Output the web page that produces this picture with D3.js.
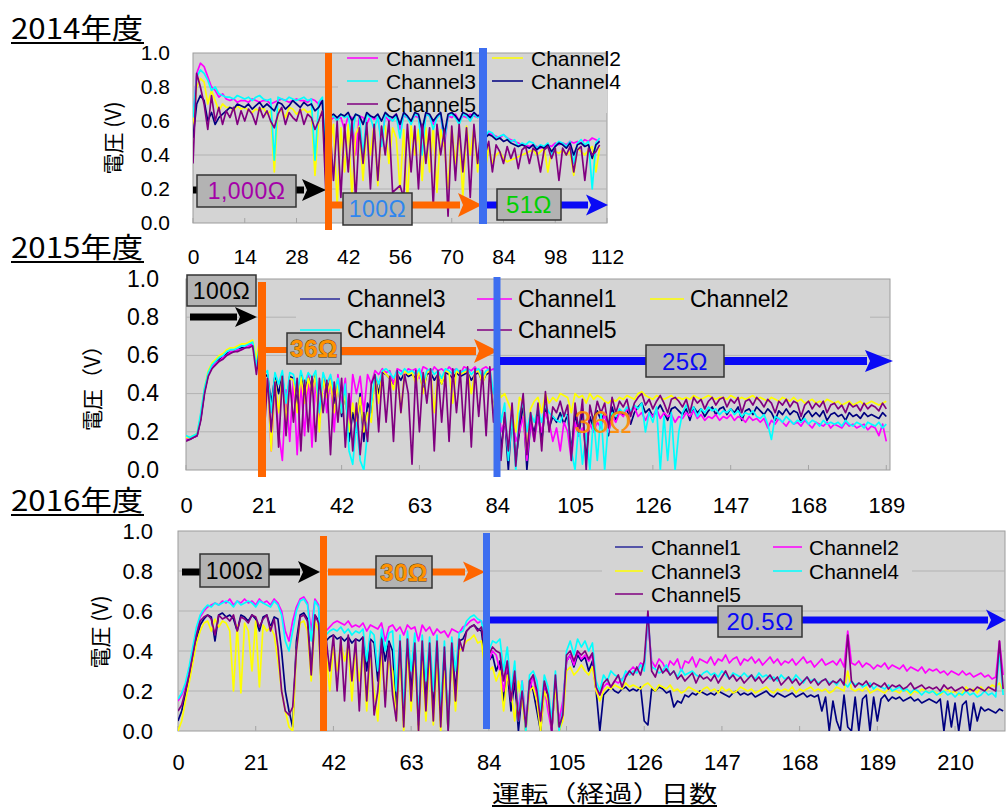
<!DOCTYPE html>
<html><head><meta charset="utf-8">
<script src="https://cdn.jsdelivr.net/npm/d3@7"></script>
<style>body{margin:0;background:#fff}</style>
</head><body><svg id="c" width="1006" height="808"></svg>
<script>
// Voltage values in centivolts (0.01 V), one value per day
const yTicks = [0, 20, 40, 60, 80, 100];
const xTicks2014 = [0, 14, 28, 42, 56, 70, 84, 98, 112];
const xTicks2015 = [0, 21, 42, 63, 84, 105, 126, 147, 168, 189];
const xTicks2016 = [0, 21, 42, 63, 84, 105, 126, 147, 168, 189, 210];

// ---- 2014 ----
const v2014_ch1 = [60,88,94,92,86,80,78,74,76,73, 72,73,71,72,72,71,73,72,71,72, 72,70,71,72,73,72,71,72,73,72, 72,71,73,72,70,72, 30, 60,62,61,
 62,55,63,62,40,63,62,58,63,61, 62,48,63,60,62,64,55,63,62,60, 63,62,50,64,63,58,62,64,45,63, 62,64,60,63,62,64,63,62,65, 52,
 53,52,51,50,52,50,49,48,47,46, 46,45,46,45,44,45,46,45,47,46, 47,46,48,47,48,47,49,48,50,49,48];
const v2014_ch2 = [58,80,85,83,70,78,72,66,70,68, 68,66,69,67,68,66,65,67,66,68, 64,66,30,67,66,62,68,67,64,66, 67,65,66,28,60,66, 20, 45,58,10,
 56,30,58,15,52,57,25,56,40,58, 22,55,57,35,56,50,20,55,12,57, 40,55,25,56,30,57,18,55,45,20, 56,35,55,15,57,40,56,30,55, 30,
 45,35,40,42,38,36,37,38,39,40, 41,42,43,40,42,44,30,43,42,41, 43,40,42,28,44,42,40,43,45,30,44];
const v2014_ch3 = [62,86,90,88,84,78,80,76,75,74, 74,73,75,74,73,74,72,74,75,73, 72,73,37,74,73,72,74,73,72,73, 74,72,73,37,71,74, 35, 62,63,60,
 64,62,63,50,64,63,40,64,62,55, 63,45,64,62,60,63,50,64,62,58, 64,63,40,64,63,55,62,64,48,63, 64,62,58,64,63,60,64,62,63, 50,
 54,53,50,51,52,50,48,49,45,47, 46,48,47,44,46,45,47,40,46,48, 47,45,48,35,47,49,46,48,20,47,50];
const v2014_ch4 = [50,70,75,72,60,65,58,62,64,66, 68,67,70,69,68,70,67,69,71,68, 70,68,66,71,70,67,69,72,70,68, 71,69,70,66,68,72, 25, 63,64,62,
 64,63,65,60,64,63,58,65,63,62, 64,60,65,63,62,64,58,65,63,60, 65,64,55,65,64,60,63,65,52,64, 65,63,60,65,64,62,65,63,64, 50,
 52,51,49,50,48,49,47,46,45,46, 45,44,46,43,45,44,46,42,45,47, 46,44,47,40,46,47,45,46,38,46,48];
const v2014_ch5 = [35,88,80,70,55,75,60,68,58,66, 62,68,58,66,60,67,64,58,68,62, 66,60,56,64,68,58,65,62,60,67, 58,64,62,55,60,66, 15, 58,25,60,
 15,58,30,60,12,56,35,59,20,58, 25,57,40,60,18,20,22,15,58,30, 57,20,58,35,56,10,58,40,55,4, 57,25,58,30,56,15,58,35,57, 40,
 48,30,46,42,35,45,38,44,32,43, 45,35,44,42,30,43,45,38,44,25, 44,40,45,30,43,45,25,44,40,42,46];

// ---- 2015 ----
const v2015_ch1 = [16,17,17,18,28,42,50,54,56,57,59,60,62,62,63,63,64,65,66,56,67,
 40,48,10,45,20,5,42,15,48,8, 46,18,50,12,47,25,50,30,49,20, 50,35,48,22,50,40,49,30,50,45, 52,50,53,51,52,45,53,52,50,53, 52,53,48,54,53,50,54,52,53,51, 54,52,53,50,54,53,52,54,51,53, 54,52,53,50,
 20,25,10,30,15,20,28,5,25,15, 28,20,30,25,15,22,10,25,20,5, 25,18,22,15,24,20,25,22,30,20, 28,25,30,28,32,30,33,28,30,26, 30,28,32,27,30,28,29,25,28,27,
 30,28,31,27,29,26,28,27,29,26, 28,27,29,26,28,27,25,28,26,27, 25,27,22,26,24,27,25,23,26,24, 25,23,26,24,22,25,24,23,25,22, 24,23,22,25,23,24,22,23,24,21, 23,22,18,24,15];
const v2015_ch2 = [17,17,18,19,29,43,52,56,58,60,61,63,64,64,65,66,66,67,68,58,70,
 20,48,10,47,30,49,25,48,47,30, 49,35,48,40,50,20,48,38,47,30, 45,30,40,20,35,25,38,20,30,25, 50,35,52,50,48,42,51,30,52,50, 51,45,52,40,51,52,30,51,45,52, 51,35,52,50,51,52,40,51,52,45, 51,52,30,49,
 38,40,35,30,20,38,35,10,32,36, 38,30,40,35,38,36,40,39,38,30, 40,38,39,35,40,37,39,38,36,35, 37,36,38,37,39,38,37,40,41,39, 38,37,39,38,37,38,39,37,38,37,
 38,37,39,38,37,38,39,38,37,38, 38,37,39,38,37,38,37,38,39,37, 38,37,36,38,37,36,38,37,36,38, 36,37,35,36,37,35,36,35,37,36, 35,36,34,35,36,34,35,36,34,35, 36,35,34,35,36];
const v2015_ch3 = [16,16,17,18,27,41,50,54,56,58,59,61,62,62,63,64,64,65,66,55,66,
 48,50,35,49,40,50,30,49,48,35, 50,40,49,42,50,25,49,40,48,35, 47,28,42,15,30,20,40,15,35,30, 49,40,51,50,48,45,50,47,51,49, 50,48,51,42,50,51,47,50,45,51, 50,48,51,49,50,51,47,50,51,46, 50,51,30,48,
 10,28,0,30,5,20,35,0,25,20, 30,15,34,22,28,25,30,24,29,10, 30,18,32,5,28,22,31,26,30,18, 33,26,31,29,32,24,30,33,35,30, 32,28,31,34,30,26,32,33,31,29,
 32,26,33,30,32,28,31,33,29,32, 33,29,32,30,33,26,31,32,29,33, 31,29,32,30,26,31,29,32,29,31, 30,25,29,31,28,30,28,31,26,29, 30,28,29,26,30,28,29,27,30,28, 29,28,27,30,28];
const v2015_ch4 = [18,17,18,19,30,43,51,55,57,59,60,62,63,63,64,65,65,66,67,54,68,
 50,52,30,51,45,52,35,51,50,40, 52,45,51,48,52,30,51,45,50,40, 48,30,45,10,3,25,5,0,20,35, 50,45,52,53,51,48,52,50,53,51, 52,50,53,45,52,53,50,52,48,53, 52,50,53,51,52,53,50,52,53,49, 52,53,40,50,
 25,35,5,28,0,30,35,20,30,25, 32,25,34,30,28,26,25,30,28,10, 0,25,3,20,0,28,5,30,0,25, 30,28,32,30,33,31,34,32,35,20, 30,25,33,0,28,5,30,0,20,30,
 34,30,33,28,32,30,33,31,32,29, 31,30,32,29,31,28,30,29,31,28, 27,29,24,16,28,27,25,28,26,24, 26,25,27,24,26,25,23,26,24,25, 24,25,23,26,24,23,25,24,22,25, 24,23,25,22,24];
const v2015_ch5 = [15,16,17,18,26,40,49,53,55,57,58,60,61,62,62,63,64,64,65,50,66,
 15,48,20,46,12,49,18,47,25,48, 10,47,20,49,15,48,30,47,8,46, 25,48,12,40,10,35,8,30,15,45, 50,20,51,25,49,15,52,30,50,40, 3,52,20,51,35,53,10,52,25,51, 15,53,30,52,20,54,12,53,28,52, 18,54,25,52,
 5,30,10,35,2,25,40,8,30,15, 35,10,41,20,33,30,36,28,34,5, 35,20,37,0,34,25,36,30,35,22, 38,30,36,33,37,28,35,38,40,34, 37,32,36,39,35,30,37,38,36,33,
 37,30,38,35,37,32,36,38,34,37, 38,33,37,35,38,30,36,37,34,38, 36,33,37,35,30,36,34,37,33,36, 35,28,34,36,32,35,33,36,30,34, 35,32,34,30,35,33,34,31,35,32, 34,33,31,35,32];

// ---- 2016 ----
const v2016_ch1 = [5,10,18,26,36,46,53,56,58,57, 45,58,59,57,58,56,50,58,57,55, 58,56,50,57,58,52,57,56,40,20, 10,2,45,58,59,56,30,58,55,
 15,45,47,48,46,47,45,47,44,46, 45,47,30,46,44,25,47,35,45,40, 10,44,5,46,20,45,3,44,15,43, 10,44,5,40,0,43,20,45,46,50, 52,53,51,50,35,
 35,38,30,35,15,30,10,25,0,20, 0,25,20,10,0,22,18,0,25,0, 10,35,38,32,38,35,37,30,35,20, 0,18,20,22,20,19,21,22,20,21, 20,22,5,3,21,20,22,21,19,20,
 12,15,14,18,17,19,18,20,19,18, 19,18,20,19,18,17,19,20,18,19, 18,19,17,18,19,20,18,17,19,18, 17,18,19,17,18,19,17,18,17,18, 10,17,0,15,5,0,18,2,0,17,
 0,16,18,0,17,5,16,18,15,17, 16,17,15,16,17,15,16,14,15,16, 15,14,16,0,15,2,14,0,13,15, 0,14,5,12,10,11,10,9,11,10];
const v2016_ch2 = [15,18,22,30,40,50,57,60,62,63, 64,63,65,64,66,63,65,64,66,64, 65,63,66,64,65,63,66,64,60,50, 45,55,62,66,67,64,50,66,63,
 20,50,52,54,55,54,53,55,52,53, 52,54,50,53,52,51,54,45,52,53, 50,52,48,53,51,52,45,53,50,52, 48,51,49,50,47,51,50,49,52,53, 55,56,54,55,50,
 35,40,38,30,20,35,15,30,10,25, 5,20,28,15,5,22,10,0,25,5, 15,35,38,33,40,36,38,35,38,20, 18,22,24,22,25,24,26,28,30,32, 30,34,33,55,35,32,36,34,30,35,
 33,36,30,35,34,37,32,36,35,34, 37,33,36,35,38,34,36,37,33,36, 35,37,34,36,33,35,37,34,36,33, 35,34,36,33,35,37,34,35,32,34, 36,33,34,35,33,36,32,50,34,33,
 35,32,34,33,31,33,32,34,31,33, 32,31,33,30,32,31,30,32,29,31, 30,31,29,30,28,30,29,28,30,28, 29,27,28,29,27,28,26,27,45,28];
const v2016_ch3 = [0,5,15,24,34,44,50,54,55,50, 56,52,55,54,50,20,53,19,54,50, 30,55,22,53,50,52,48,35,20,10, 2,0,40,54,55,50,25,55,50,
 5,40,20,42,30,44,35,43,15,40, 25,42,10,38,20,5,40,15,35,30, 5,38,0,40,10,38,0,35,5,36, 3,35,0,30,0,38,10,40,42,45, 46,48,44,45,30,
 30,32,25,30,10,28,20,5,25,15, 0,20,22,15,0,20,15,2,22,0, 5,30,32,28,30,33,30,28,32,20, 15,20,22,21,23,22,21,24,22,23, 22,21,23,24,22,20,23,22,21,23,
 20,21,19,20,22,21,20,19,21,22, 20,21,19,22,20,21,19,20,22,21, 20,21,19,20,21,22,20,19,21,20, 21,20,22,19,21,20,21,22,20,21, 20,21,19,20,22,21,20,30,21,20,
 21,20,22,19,20,21,20,19,21,20, 20,19,21,20,18,20,19,21,20,19, 20,19,18,20,21,19,20,18,19,22, 20,21,19,22,20,21,23,22,24,20];
const v2016_ch4 = [16,19,24,32,42,52,58,61,63,62, 64,63,64,65,64,62,65,63,64,65, 64,62,65,64,63,62,65,63,58,45, 40,50,60,65,66,63,45,65,62,
 25,48,50,51,50,52,49,51,48,50, 49,51,35,50,48,30,51,40,49,50, 20,48,10,50,30,49,5,48,25,47, 20,48,10,45,0,47,30,49,50,55, 57,58,56,55,45,
 40,45,44,46,30,42,20,35,5,25, 0,28,30,25,10,28,22,5,30,0, 10,40,45,38,46,42,45,40,44,25, 20,28,25,30,28,27,25,30,28,30, 29,33,30,58,32,31,29,30,33,28,
 30,27,31,28,29,30,28,27,29,30, 28,29,27,30,28,26,29,28,27,29, 27,28,26,29,27,28,26,27,25,28, 26,27,25,28,26,24,27,25,26,24, 25,26,24,25,23,26,24,22,25,23,
 24,22,23,24,21,23,22,21,23,20, 21,22,20,21,19,21,20,18,20,19, 20,18,19,20,18,19,17,19,18,20, 18,19,17,18,20,18,19,17,40,18];
const v2016_ch5 = [10,13,20,28,38,48,55,57,58,56, 48,58,56,57,55,58,50,57,56,54, 58,57,52,56,58,50,56,42,20,10, 8,12,40,57,58,55,28,58,54,
 10,47,30,48,20,47,15,48,25,46, 10,47,15,45,8,20,46,12,44,18, 5,45,2,46,15,44,0,45,10,44, 5,45,2,42,0,44,15,46,40,50, 52,53,50,52,40,
 38,42,40,39,25,35,15,30,5,20, 2,25,28,20,5,25,18,0,28,2, 8,38,40,35,40,38,40,36,39,22, 18,24,26,22,25,28,22,27,30,28, 32,28,35,60,30,27,33,29,31,28,
 30,26,28,25,27,29,24,28,26,27, 25,28,24,27,30,26,28,25,27,24, 26,28,25,27,24,26,28,25,27,23, 25,27,24,26,23,25,27,24,26,23, 25,26,23,25,24,26,23,48,25,22,
 24,23,25,22,24,23,22,24,21,23, 22,23,21,22,24,21,22,23,21,22, 21,22,20,23,21,22,20,21,22,20, 21,20,22,21,20,22,21,20,45,21];

const C = {mag:"#ff00ff", yel:"#ffff00", cya:"#00ffff", nav:"#000080", pur:"#800080"};
const FONT = '"Liberation Sans", Arial, sans-serif';
const JFONT = '"Noto Sans CJK JP", "Noto Sans CJK SC", sans-serif';
const ORANGE = "#ff6600", VBLUE = "#3d6ef0", ABLUE = "#0a0af5";

const svg = d3.select("#c");
const defs = svg.append("defs");

function arrow(g, x1, x2, y, color, th, hl, hw) {
  g.append("line").attr("x1", x1).attr("x2", x2 - hl + 2).attr("y1", y).attr("y2", y)
    .attr("stroke", color).attr("stroke-width", th);
  g.append("path").attr("d", `M${x2 - hl},${y - hw / 2} L${x2},${y} L${x2 - hl},${y + hw / 2} L${x2 - hl + 5},${y} Z`)
    .attr("fill", color);
}
function box(g, x0, y0, x1, y1, label, color, fs, bold) {
  g.append("rect").attr("x", x0).attr("y", y0).attr("width", x1 - x0).attr("height", y1 - y0)
    .attr("fill", "#b3b3b3").attr("stroke", "#333").attr("stroke-width", 1.5);
  const t = g.append("text").attr("x", (x0 + x1) / 2).attr("y", (y0 + y1) / 2).attr("dy", "0.36em")
    .attr("text-anchor", "middle").attr("font-family", FONT).attr("font-size", fs)
    .attr("letter-spacing", 0.5).attr("fill", color).text(label);
  if (bold) t.attr("font-weight", "bold").attr("stroke", "#5a3300").attr("stroke-width", 0.8).attr("paint-order", "stroke");
}
function vline(g, x, y0, y1, color, w) {
  g.append("line").attr("x1", x).attr("x2", x).attr("y1", y0).attr("y2", y1).attr("stroke", color).attr("stroke-width", w);
}

function panel(cfg) {
  const x = d3.scaleLinear().domain(cfg.xDomain).range([cfg.left, cfg.right]);
  const y = d3.scaleLinear().domain([0, 100]).range([cfg.bottom, cfg.top]);
  const g = svg.append("g");
  g.append("rect").attr("x", cfg.left).attr("y", cfg.top).attr("width", cfg.right - cfg.left)
    .attr("height", cfg.bottom - cfg.top).attr("fill", "#d4d4d4").attr("stroke", "#9c9c9c");
  g.selectAll(null).data(yTicks.filter(t => t > 0 && t < 100)).enter().append("line")
    .attr("x1", cfg.left).attr("x2", cfg.right).attr("y1", d => y(d)).attr("y2", d => y(d))
    .attr("stroke", "#b2b2b2");
  g.selectAll(null).data(cfg.xTicks).enter().append("line")
    .attr("x1", d => x(d)).attr("x2", d => x(d)).attr("y1", cfg.bottom).attr("y2", cfg.bottom - 5)
    .attr("stroke", "#a4a4a4");
  const lb = cfg.legendBg;
  g.append("rect").attr("x", lb[0]).attr("y", lb[1]).attr("width", lb[2] - lb[0]).attr("height", lb[3] - lb[1]).attr("fill", "#d4d4d4");

  const cid = "clip" + cfg.name;
  defs.append("clipPath").attr("id", cid).append("rect").attr("x", cfg.left).attr("y", cfg.top)
    .attr("width", cfg.right - cfg.left).attr("height", cfg.bottom - cfg.top);
  const line = d3.line().x((d, i) => x(i)).y(d => y(d));
  const dg = g.append("g").attr("clip-path", `url(#${cid})`);
  cfg.series.forEach(s => dg.append("path").datum(s.values).attr("d", line).attr("fill", "none")
    .attr("stroke", s.color).attr("stroke-width", 1.7).attr("stroke-linejoin", "round"));

  cfg.legend.forEach(l => {
    g.append("line").attr("x1", l.lx0).attr("x2", l.lx1).attr("y1", l.y).attr("y2", l.y)
      .attr("stroke", l.color).attr("stroke-width", 1.5);
    g.append("text").attr("x", l.tx).attr("y", l.y).attr("dy", "0.36em").attr("font-family", FONT)
      .attr("font-size", cfg.legendFont).attr("fill", "#000").text(l.name);
  });

  cfg.annotate(g);

  const ya = d3.axisLeft(y).tickValues(yTicks).tickFormat(d => (d / 100).toFixed(1)).tickSize(0).tickPadding(cfg.yPad);
  const yg = g.append("g").attr("transform", `translate(${cfg.left},0)`).call(ya);
  yg.select(".domain").remove();
  yg.selectAll("text").attr("font-size", cfg.yFont).attr("font-family", FONT).attr("fill", "#000");
  const xa = d3.axisBottom(x).tickValues(cfg.xTicks).tickSize(0).tickPadding(0);
  const xg = g.append("g").attr("transform", `translate(0,${cfg.xLabelY})`).call(xa);
  xg.select(".domain").remove();
  xg.selectAll("text").attr("dy", "0.36em").attr("font-size", cfg.xFont).attr("font-family", FONT).attr("fill", "#000");

  g.append("text").attr("transform", `translate(${cfg.yTitle[0]},${cfg.yTitle[1]}) rotate(-90)`)
    .attr("text-anchor", "middle").attr("dy", "0.36em").attr("font-family", JFONT)
    .attr("font-size", 21).attr("fill", "#000").text(cfg.yTitleText);

  g.append("text").attr("x", 11).attr("y", cfg.titleY).attr("font-family", JFONT).attr("font-size", 28)
    .attr("textLength", 132).attr("lengthAdjust", "spacingAndGlyphs").attr("fill", "#000").text(cfg.title);
  g.append("line").attr("x1", 11).attr("x2", 144).attr("y1", cfg.titleY + 4).attr("y2", cfg.titleY + 4)
    .attr("stroke", "#000").attr("stroke-width", 2);
}

panel({
  name: "2014", title: "2014年度", titleY: 39,
  left: 193, right: 607, top: 53, bottom: 223, xDomain: [0, 112], xTicks: xTicks2014,
  xLabelY: 256, yPad: 23, yFont: 21, xFont: 21, legendFont: 21,
  yTitle: [113, 138], yTitleText: "電圧 (V)",
  legendBg: [338, 54, 607, 113],
  series: [{values: v2014_ch1, color: C.mag}, {values: v2014_ch2, color: C.yel}, {values: v2014_ch3, color: C.cya},
           {values: v2014_ch4, color: C.nav}, {values: v2014_ch5, color: C.pur}],
  legend: [
    {name: "Channel1", color: C.mag, lx0: 347, lx1: 378, tx: 386, y: 58},
    {name: "Channel2", color: C.yel, lx0: 492, lx1: 523, tx: 531, y: 58},
    {name: "Channel3", color: C.cya, lx0: 347, lx1: 378, tx: 386, y: 81},
    {name: "Channel4", color: C.nav, lx0: 492, lx1: 523, tx: 531, y: 81},
    {name: "Channel5", color: C.pur, lx0: 347, lx1: 378, tx: 386, y: 104}],
  annotate: g => {
    arrow(g, 193, 326, 190, "#000", 7, 24, 22);
    box(g, 197, 175, 296, 207, "1,000Ω", "#a400a8", 23, false);
    arrow(g, 329, 482, 205, ORANGE, 7, 24, 24);
    box(g, 343, 193, 412, 225, "100Ω", "#2f86ee", 23, false);
    arrow(g, 487, 608, 205, ABLUE, 7, 22, 21);
    box(g, 497, 189, 561, 220, "51Ω", "#00d000", 24, false);
    vline(g, 328.5, 53, 230, ORANGE, 7);
    vline(g, 483, 48, 224, VBLUE, 8);
  }
});

panel({
  name: "2015", title: "2015年度", titleY: 258,
  left: 186, right: 890, top: 279, bottom: 470, xDomain: [0, 190], xTicks: xTicks2015,
  xLabelY: 505, yPad: 27, yFont: 23, xFont: 22, legendFont: 23,
  yTitle: [92, 383], yTitleText: "電圧（V）",
  legendBg: [296, 281, 870, 344],
  series: [{values: v2015_ch3, color: C.nav}, {values: v2015_ch1, color: C.mag}, {values: v2015_ch2, color: C.yel},
           {values: v2015_ch4, color: C.cya}, {values: v2015_ch5, color: C.pur}],
  legend: [
    {name: "Channel3", color: "#2a2a9a", lx0: 300, lx1: 340, tx: 347, y: 299},
    {name: "Channel1", color: C.mag, lx0: 477, lx1: 512, tx: 518, y: 299},
    {name: "Channel2", color: C.yel, lx0: 650, lx1: 684, tx: 690, y: 299},
    {name: "Channel4", color: C.cya, lx0: 300, lx1: 340, tx: 347, y: 330},
    {name: "Channel5", color: C.pur, lx0: 477, lx1: 512, tx: 518, y: 330}],
  annotate: g => {
    box(g, 187, 275, 256, 306, "100Ω", "#000", 23, false);
    arrow(g, 190, 257, 317, "#000", 7, 22, 20);
    g.append("line").attr("x1", 262).attr("x2", 288).attr("y1", 350).attr("y2", 350).attr("stroke", ORANGE).attr("stroke-width", 6);
    arrow(g, 340, 498, 351, ORANGE, 8, 24, 24);
    box(g, 287, 333, 341, 364, "36Ω", "#ff9200", 24, true);
    vline(g, 262, 282, 477, ORANGE, 8);
    vline(g, 497, 277, 477, VBLUE, 7);
    arrow(g, 500, 893, 361, ABLUE, 8, 28, 22);
    box(g, 646, 345, 724, 377, "25Ω", ABLUE, 24, false);
    g.append("text").attr("x", 603).attr("y", 433).attr("text-anchor", "middle").attr("font-family", FONT)
      .attr("font-size", 31).attr("fill", "#ff8a00").attr("opacity", 0.9).text("36Ω");
  }
});

panel({
  name: "2016", title: "2016年度", titleY: 511,
  left: 178, right: 1005, top: 531, bottom: 731, xDomain: [0, 223.5], xTicks: xTicks2016,
  xLabelY: 762, yPad: 25, yFont: 22, xFont: 22, legendFont: 21,
  yTitle: [100, 632], yTitleText: "電圧 (V)",
  legendBg: [602, 536, 912, 606],
  series: [{values: v2016_ch1, color: C.nav}, {values: v2016_ch2, color: C.mag}, {values: v2016_ch3, color: C.yel},
           {values: v2016_ch4, color: C.cya}, {values: v2016_ch5, color: C.pur}],
  legend: [
    {name: "Channel1", color: "#2a2a9a", lx0: 615, lx1: 643, tx: 651, y: 547},
    {name: "Channel2", color: C.mag, lx0: 773, lx1: 802, tx: 809, y: 547},
    {name: "Channel3", color: C.yel, lx0: 615, lx1: 643, tx: 651, y: 571},
    {name: "Channel4", color: C.cya, lx0: 773, lx1: 802, tx: 809, y: 571},
    {name: "Channel5", color: C.pur, lx0: 615, lx1: 643, tx: 651, y: 594}],
  annotate: g => {
    arrow(g, 182, 320, 572, "#000", 7, 22, 22);
    box(g, 200, 554, 269, 587, "100Ω", "#000", 23, false);
    arrow(g, 328, 485, 572, ORANGE, 7, 22, 21);
    box(g, 376, 556, 432, 588, "30Ω", "#ff9200", 24, true);
    vline(g, 323.5, 536, 731, ORANGE, 7);
    vline(g, 486.5, 533, 729, VBLUE, 7);
    arrow(g, 490, 1006, 620, ABLUE, 7, 20, 21);
    box(g, 718, 606, 802, 637, "20.5Ω", ABLUE, 24, false);
  }
});

// bottom axis title
svg.append("text").attr("x", 492).attr("y", 802).attr("font-family", JFONT).attr("font-size", 23)
  .attr("textLength", 225).attr("lengthAdjust", "spacingAndGlyphs").attr("fill", "#000").text("運転（経過）日数");
svg.append("line").attr("x1", 492).attr("x2", 717).attr("y1", 806).attr("y2", 806).attr("stroke", "#000").attr("stroke-width", 2);
</script>
</body></html>
